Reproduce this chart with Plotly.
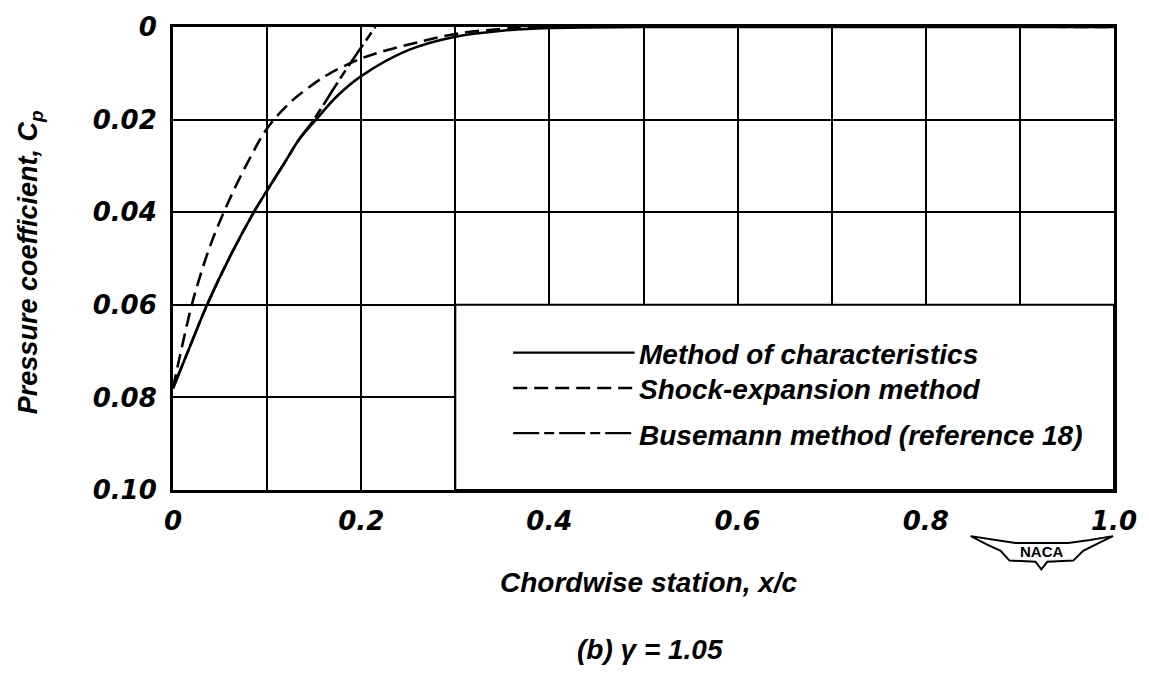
import plotly.graph_objects as go

# ---- data ----
x_moc = [0, 0.018, 0.036, 0.06, 0.085, 0.1, 0.118, 0.134, 0.152, 0.175, 0.2, 0.25, 0.3, 0.35, 0.4, 0.5, 1.0]
cp_moc = [0.078, 0.0690, 0.0601, 0.0498, 0.0403, 0.0353, 0.0295, 0.0243, 0.0200, 0.0148, 0.0106, 0.0050, 0.0021, 0.0008, 0.0002, 0.0, 0.0]

x_se = [0, 0.0074, 0.02, 0.0285, 0.04, 0.057, 0.08, 0.1, 0.125, 0.148, 0.166, 0.2, 0.229, 0.26, 0.3, 0.35, 0.4, 1.0]
cp_se = [0.078, 0.071, 0.060, 0.054, 0.047, 0.0386, 0.029, 0.0219, 0.0162, 0.0125, 0.0101, 0.0068, 0.0049, 0.0033, 0.0015, 0.0004, 0.0, 0.0]

x_bu = [0, 0.018, 0.036, 0.06, 0.085, 0.1, 0.118, 0.134, 0.148, 0.18, 0.215]
cp_bu = [0.078, 0.0690, 0.0601, 0.0498, 0.0403, 0.0353, 0.0295, 0.0243, 0.0205, 0.0104, 0.0]

series_names = ["Method of characteristics", "Shock-expansion method", "Busemann method (reference 18)"]

x_ticks = [0, 0.2, 0.4, 0.6, 0.8, 1.0]
x_ticktext = ["0", "0.2", "0.4", "0.6", "0.8", "1.0"]
x_minor = [0.1, 0.3, 0.5, 0.7, 0.9]
y_ticks = [0, 0.02, 0.04, 0.06, 0.08, 0.10]
y_ticktext = ["0", "0.02", "0.04", "0.06", "0.08", "0.10"]

# ---- styling ----
W, H = 1149, 674
ML, MR, MT, MB = 173, 30, 18, 184
PW, PH = W - ML - MR, H - MT - MB

def px(xp):
    return (xp - ML) / PW

def py(yp):
    return (H - MB - yp) / PH

tick_font = dict(family="DejaVu Sans", size=26, color="black", style="italic", weight="bold")
txt_font = dict(family="Liberation Sans", size=28, color="black", style="italic", weight="bold")

dashes = ["solid", "14px,7px", "26px,5px,10px,5px"]

fig = go.Figure()
for xs, ys, d in [(x_moc, cp_moc, dashes[0]), (x_se, cp_se, dashes[1]), (x_bu, cp_bu, dashes[2])]:
    fig.add_trace(go.Scatter(x=xs, y=ys, mode="lines", line=dict(color="black", width=2.6, dash=d),
                             line_shape="spline", showlegend=False, hoverinfo="skip"))

shapes = []
# legend box (hides the grid in lower right)
shapes.append(dict(type="rect", xref="x", yref="y", x0=0.3, x1=1.0, y0=0.06, y1=0.10,
                   fillcolor="white", line=dict(color="black", width=2), layer="between"))

# legend samples and texts
leg_y = [350, 386, 432]
annotations = []
for name, d, yy in zip(series_names, dashes, leg_y):
    shapes.append(dict(type="line", xref="paper", yref="paper", x0=px(515), x1=px(637), y0=py(yy), y1=py(yy),
                       line=dict(color="black", width=2.4, dash=d)))
    annotations.append(dict(text=name, xref="paper", yref="paper", x=px(639), y=py(yy + 2), xanchor="left",
                            yanchor="middle", showarrow=False, font=txt_font))

# axis titles
annotations.append(dict(text="Chordwise station, x/c", xref="paper", yref="paper", x=px(652), y=py(584),
                        xanchor="center", yanchor="middle", showarrow=False, font=txt_font))
annotations.append(dict(text="(b) γ = 1.05", xref="paper", yref="paper", x=px(653), y=py(653),
                        xanchor="center", yanchor="middle", showarrow=False, font=txt_font))
annotations.append(dict(text="Pressure coefficient, C<sub>p</sub>", xref="paper", yref="paper", x=px(30), y=py(258),
                        xanchor="center", yanchor="middle", textangle=-90, showarrow=False,
                        font=dict(txt_font, size=27)))

# NACA logo (decoration)
logo_pts = [(975, 537), (1000, 541), (1020, 544), (1073, 544), (1095, 541), (1118, 537),
            (1102, 545), (1088, 552), (1078, 562), (1052, 563), (1046, 571), (1040, 563),
            (1014, 562), (1005, 552), (990, 545)]
path = "M " + " L ".join(f"{px(a):.4f},{py(b):.4f}" for a, b in logo_pts) + " Z"
shapes.append(dict(type="path", xref="paper", yref="paper", path=path, fillcolor="white",
                   line=dict(color="black", width=2)))
annotations.append(dict(text="NACA", xref="paper", yref="paper", x=px(1046), y=py(553), xanchor="center",
                        yanchor="middle", showarrow=False,
                        font=dict(family="Liberation Sans", size=15, color="black", weight="bold")))

grid = dict(showgrid=True, gridcolor="black", gridwidth=2)
fig.update_layout(
    width=W, height=H,
    margin=dict(l=ML, r=MR, t=MT, b=MB),
    paper_bgcolor="white", plot_bgcolor="white",
    shapes=shapes, annotations=annotations,
    xaxis=dict(range=[0, 1.0], tickmode="array", tickvals=x_ticks, ticktext=x_ticktext,
               zeroline=False, showline=True, linecolor="black", linewidth=3, mirror=True,
               ticks="", tickfont=tick_font, ticklabelstandoff=6,
               minor=dict(tickmode="array", tickvals=x_minor, ticks="", **grid), **grid),
    yaxis=dict(range=[0.10, 0], tickmode="array", tickvals=y_ticks, ticktext=y_ticktext,
               zeroline=False, showline=True, linecolor="black", linewidth=3, mirror=True,
               ticks="", tickfont=tick_font, ticklabelstandoff=8, **grid),
)

fig.write_html("out.html")
